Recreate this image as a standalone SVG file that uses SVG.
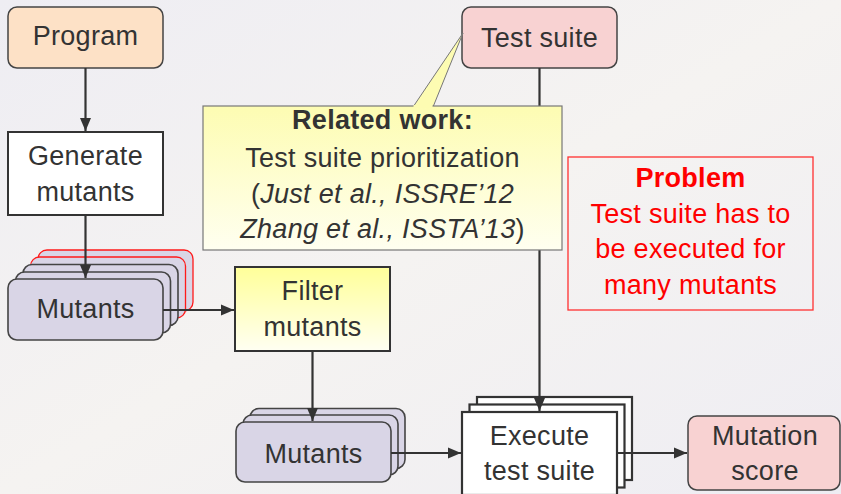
<svg xmlns="http://www.w3.org/2000/svg" width="841" height="494" viewBox="0 0 841 494">
<defs>
<linearGradient id="bg" x1="0" y1="0" x2="1" y2="1">
<stop offset="0" stop-color="#eeedf3"/>
<stop offset="0.5" stop-color="#f5f3f1"/>
<stop offset="1" stop-color="#eeedf3"/>
</linearGradient>
<linearGradient id="yel" x1="0" y1="0" x2="0" y2="1">
<stop offset="0" stop-color="#ffff99"/>
<stop offset="1" stop-color="#fffff2"/>
</linearGradient>
<linearGradient id="yel2" x1="0" y1="0" x2="0" y2="1">
<stop offset="0" stop-color="#fdfcb2"/>
<stop offset="1" stop-color="#fffff0"/>
</linearGradient>
<marker id="ah" markerUnits="userSpaceOnUse" markerWidth="14" markerHeight="12" refX="13" refY="6" orient="auto">
<path d="M0,0.5 L13,6 L0,11.5 Z" fill="#333"/>
</marker>
<style>
.t{font-family:"Liberation Sans",Arial,sans-serif;font-size:27px;fill:#333;text-anchor:middle;letter-spacing:0.3px}
.b{font-weight:bold}
.i{font-style:italic}
.r{fill:#ff0000}
.box{stroke:#333;stroke-width:2}
.mut{fill:#d9d5e6;stroke:#444;stroke-width:1.6}
.mutr{fill:#d9d5e6;stroke:#ff1a1a;stroke-width:1.3}
.pink{fill:#f8d2d2;stroke:#444;stroke-width:1.5}
.exe{fill:#fff;stroke:#333;stroke-width:2.2}
.c{stroke:#333;stroke-width:2.2;fill:none}
</style>
</defs>
<rect width="841" height="494" fill="url(#bg)"/>

<g id="program">
<rect x="8" y="7" width="155" height="61" rx="9" fill="#fde1c6" stroke="#444" stroke-width="1.5"/>
<text class="t" x="85.5" y="45">Program</text>
</g>

<g id="generate">
<rect class="box" x="8" y="132" width="155" height="83" fill="#fff"/>
<text class="t" x="85.5" y="165">Generate</text>
<text class="t" x="85.5" y="201">mutants</text>
</g>

<g id="mutants1">
<rect class="mutr" x="38" y="250" width="155" height="61" rx="9"/>
<rect class="mutr" x="30.5" y="257" width="155" height="61" rx="9"/>
<rect class="mut" x="23" y="264.5" width="155" height="61" rx="9"/>
<rect class="mut" x="15.5" y="272" width="155" height="61" rx="9"/>
<rect class="mut" x="8" y="279" width="155" height="61" rx="9"/>
<text class="t" x="85.5" y="318">Mutants</text>
</g>

<g id="filter">
<rect class="box" x="235" y="267" width="155" height="84" fill="url(#yel)"/>
<text class="t" x="312.5" y="300">Filter</text>
<text class="t" x="312.5" y="336">mutants</text>
</g>

<g id="mutants2">
<rect class="mut" x="250" y="408.5" width="155" height="60" rx="9"/>
<rect class="mut" x="243" y="415" width="155" height="60" rx="9"/>
<rect class="mut" x="236" y="422" width="155" height="60" rx="9"/>
<text class="t" x="313.5" y="463">Mutants</text>
</g>

<g id="testsuite">
<rect class="pink" x="462" y="7" width="155" height="61" rx="9"/>
<text class="t" x="539.5" y="47">Test suite</text>
</g>

<g id="execute">
<rect class="exe" x="477" y="397" width="155" height="83"/>
<rect class="exe" x="469.5" y="404.5" width="155" height="83"/>
<rect class="exe" x="462" y="412" width="155" height="83"/>
<text class="t" x="539.5" y="445">Execute</text>
<text class="t" x="539.5" y="480">test suite</text>
</g>

<g id="score">
<rect class="pink" x="688" y="416" width="152" height="74" rx="9"/>
<text class="t" x="765" y="445">Mutation</text>
<text class="t" x="765" y="480">score</text>
</g>

<g id="connectors">
<line class="c" x1="85.5" y1="68" x2="85.5" y2="131" marker-end="url(#ah)"/>
<line class="c" x1="85.5" y1="215" x2="85.5" y2="278" marker-end="url(#ah)"/>
<line class="c" x1="163" y1="310" x2="234" y2="310" marker-end="url(#ah)"/>
<line class="c" x1="312.5" y1="351" x2="312.5" y2="421" marker-end="url(#ah)"/>
<line class="c" x1="391" y1="453" x2="461" y2="453" marker-end="url(#ah)"/>
<line class="c" x1="539.5" y1="68" x2="539.5" y2="411" marker-end="url(#ah)"/>
<line class="c" x1="617" y1="453" x2="687" y2="453" marker-end="url(#ah)"/>
</g>

<g id="related">
<path d="M413,107 L463,33 L433,107" fill="#fdfcb2" stroke="#777" stroke-width="1"/>
<rect x="203" y="106" width="359" height="144" fill="url(#yel2)" stroke="#777" stroke-width="1.2"/>
<rect x="413.5" y="105" width="19" height="3" fill="#fdfcb2"/>
<text class="t b" x="382.5" y="129">Related work:</text>
<text class="t" x="382.5" y="167">Test suite prioritization</text>
<text class="t" x="382.5" y="203">(<tspan class="i">Just et al., ISSRE’12</tspan></text>
<text class="t" x="382.5" y="238"><tspan class="i">Zhang et al., ISSTA’13</tspan>)</text>
</g>

<g id="problem">
<rect x="568" y="157" width="245" height="153" fill="none" stroke="#ff3030" stroke-width="1.3"/>
<text class="t b r" x="690.5" y="187">Problem</text>
<text class="t r" x="690.5" y="223">Test suite has to</text>
<text class="t r" x="690.5" y="258">be executed for</text>
<text class="t r" x="690.5" y="294">many mutants</text>
</g>
</svg>
